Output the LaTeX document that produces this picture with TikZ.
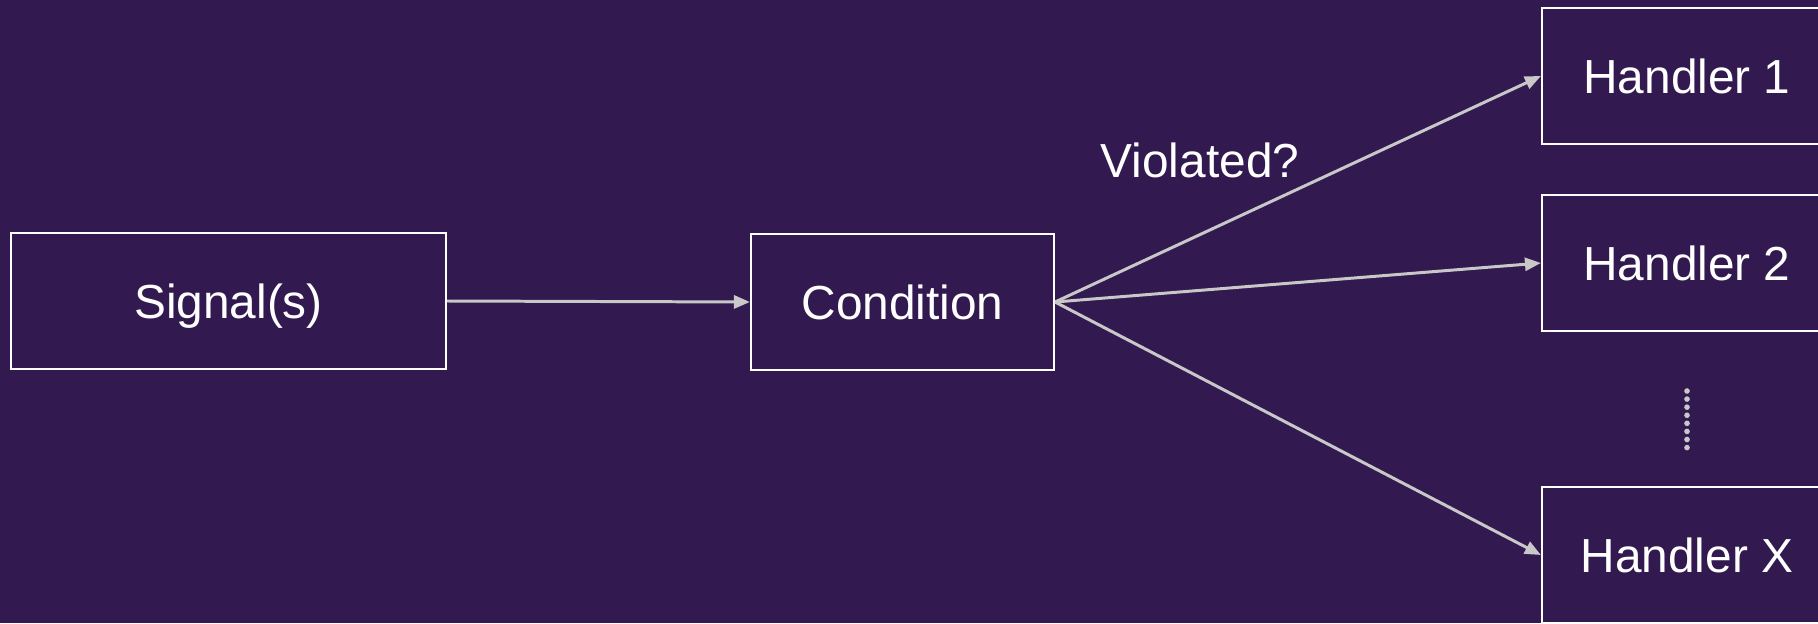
\documentclass[tikz,border=0pt]{standalone}
\usepackage{fontspec}
\setmainfont{Liberation Sans}
\usetikzlibrary{arrows.meta}
\definecolor{bgpurple}{RGB}{50,25,80}
\definecolor{arrowgray}{RGB}{200,200,200}
\begin{document}
\begin{tikzpicture}
        \tikzstyle{box}=[draw=white,line width=0.6pt,text=white,inner sep=0pt,minimum height=1.36cm,text height=9.74pt,text depth=0pt,font=\fontsize{13.6}{16}\selectfont]
        \tikzstyle{flow}=[draw=arrowgray,line width=0.85pt,-{Triangle[length=1.6mm,width=1.3mm]}]

        \fill[bgpurple] (0,0) rectangle (18.18,6.23);
        \useasboundingbox (0,0) rectangle (18.18,6.23);

        \node (sig)[box,minimum width=4.35cm] at (2.285,3.22) {Signal(s)};
        \node (cond)[box,minimum width=3.03cm] at (9.025,3.21) {Condition};

        \node (h1)[box,minimum width=2.9cm] at (16.87,5.47) {Handler 1};
        \node (h2)[box,minimum width=2.9cm] at (16.87,3.60) {Handler 2};
        \node (hx)[box,minimum width=2.9cm] at (16.87,0.68) {Handler X};

        \node (q)[text=white,inner sep=0pt,text height=9.74pt,text depth=0pt,font=\fontsize{13.6}{16}\selectfont] at (12.00,4.63) {Violated?};

        \draw[flow] (sig.east) -- (cond.west);
        \draw[flow] (cond.east) -- (h1.west);
        \draw[flow] (cond.east) -- (h2.west);
        \draw[flow] (cond.east) -- (hx.west);

        \coordinate (dtop) at (16.87,2.32);
        \coordinate (dbot) at (16.87,1.75);
        \draw[arrowgray,line width=1.6pt,line cap=round,dash pattern=on 0pt off 2.3pt] (dtop) -- (dbot);
    \end{tikzpicture}
\end{document}
